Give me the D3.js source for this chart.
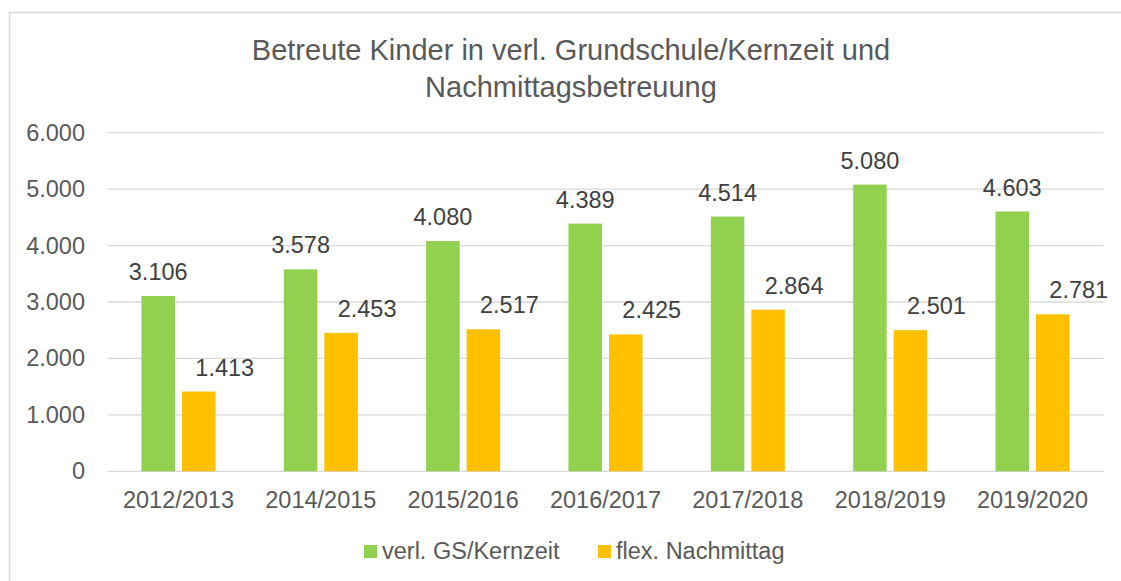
<!DOCTYPE html>
<html>
<head>
<meta charset="utf-8">
<script src="https://cdn.jsdelivr.net/npm/d3@7"></script>
<style>
  html, body { margin: 0; padding: 0; background: #fff; }
  svg { display: block; font-family: "Liberation Sans", Arial, sans-serif; }
</style>
</head>
<body>
<svg id="chart" width="1121" height="581"></svg>
<script>
const categories = ["2012/2013", "2014/2015", "2015/2016", "2016/2017", "2017/2018", "2018/2019", "2019/2020"];
const seriesNames = ["verl. GS/Kernzeit", "flex. Nachmittag"];
const gsKernzeit = [3106, 3578, 4080, 4389, 4514, 5080, 4603];
const flexNachmittag = [1413, 2453, 2517, 2425, 2864, 2501, 2781];
const yTicks = [0, 1000, 2000, 3000, 4000, 5000, 6000];
const titleLines = ["Betreute Kinder in verl. Grundschule/Kernzeit und", "Nachmittagsbetreuung"];

const colors = ["#92D050", "#FFC000"];
const seriesValues = [gsKernzeit, flexNachmittag];

const svg = d3.select("#chart");
const W = 1121, H = 581;
const plot = { left: 107.3, right: 1103.7, top: 132.7, bottom: 471.3 };

const fmt = v => d3.format(",")(v).replace(/,/g, ".");

// chart border
svg.append("rect")
  .attr("x", 9.5).attr("y", 12.5)
  .attr("width", W + 20).attr("height", H + 20)
  .attr("fill", "none").attr("stroke", "#d9d9d9").attr("stroke-width", 1.5);

// title
svg.append("g").selectAll("text").data(titleLines).join("text")
  .attr("x", 571).attr("y", (d, i) => 60 + i * 37)
  .attr("text-anchor", "middle")
  .attr("font-size", 29).attr("fill", "#595959")
  .text(d => d);

const x0 = d3.scaleBand().domain(categories).range([plot.left, plot.right]).padding(0);
const x1 = d3.scaleBand().domain(seriesNames).range([0, x0.bandwidth()])
  .paddingInner(0.173).paddingOuter(0.843);
const y = d3.scaleLinear().domain([0, 6000]).range([plot.bottom, plot.top]);

// gridlines
svg.append("g").selectAll("line").data(yTicks).join("line")
  .attr("x1", plot.left).attr("x2", plot.right)
  .attr("y1", d => y(d)).attr("y2", d => y(d))
  .attr("stroke", "#d9d9d9").attr("stroke-width", 1.3);

// y axis
const yAxis = d3.axisLeft(y).tickValues(yTicks).tickFormat(fmt).tickSize(0).tickPadding(0);
const gy = svg.append("g").attr("transform", `translate(85,0)`).call(yAxis);
gy.select(".domain").remove();
gy.selectAll("text").attr("font-size", 23.5).attr("fill", "#595959")
  .attr("font-family", "Liberation Sans, Arial, sans-serif");

// x axis
const xAxis = d3.axisBottom(x0).tickSize(0).tickPadding(0);
const gx = svg.append("g").attr("transform", `translate(0,${plot.bottom})`).call(xAxis);
gx.select(".domain").remove();
gx.selectAll("text").attr("font-size", 23.5).attr("fill", "#595959")
  .attr("dy", null).attr("y", 37)
  .attr("font-family", "Liberation Sans, Arial, sans-serif");

// bars
const rows = categories.map((c, i) => ({ cat: c, vals: seriesNames.map((s, j) => ({ s, j, v: seriesValues[j][i] })) }));
const groups = svg.append("g").selectAll("g").data(rows).join("g")
  .attr("transform", d => `translate(${x0(d.cat)},0)`);

groups.selectAll("rect").data(d => d.vals).join("rect")
  .attr("x", d => x1(d.s))
  .attr("y", d => y(d.v))
  .attr("width", x1.bandwidth())
  .attr("height", d => y(0) - y(d.v))
  .attr("fill", d => colors[d.j]);

// data labels
groups.selectAll("text").data(d => d.vals).join("text")
  .attr("x", d => x1(d.s) + x1.bandwidth() / 2 + (d.j === 1 ? 26 : 0))
  .attr("y", d => y(d.v) - 16)
  .attr("text-anchor", "middle")
  .attr("font-size", 23.5).attr("fill", "#404040")
  .text(d => fmt(d.v));

// legend
const legendItems = [{ name: seriesNames[0], x: 364 }, { name: seriesNames[1], x: 598 }];
const lg = svg.append("g").selectAll("g").data(legendItems).join("g")
  .attr("transform", d => `translate(${d.x},545)`);
lg.append("rect").attr("width", 13).attr("height", 13).attr("fill", (d, i) => colors[i]);
lg.append("text").attr("x", 18).attr("y", 14)
  .attr("font-size", 23.5).attr("fill", "#595959")
  .text(d => d.name);
</script>
</body>
</html>
